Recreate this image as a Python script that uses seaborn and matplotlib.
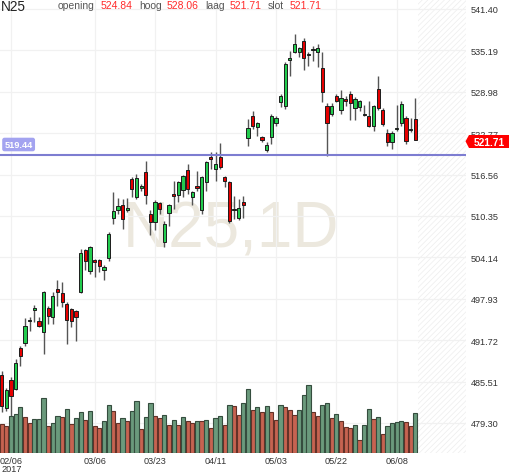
import matplotlib
matplotlib.use('Agg')
import matplotlib.pyplot as plt
import seaborn as sns
import numpy as np
import pandas as pd
from matplotlib.patches import Polygon

# ==========================================
# Data: daily candles N25
# ==========================================
opens = [486.5, 481.55, 485.75, 484.4, 490.55, 491.3, 494.6, 496.25, 494.6, 492.95,
         496.55, 495.2, 499.4, 498.8, 497.15, 496.4, 496.1, 498.95, 505.25, 502.1,
         503.75, 503.75, 502.25, 504.05, 510.05, 511.25, 512.0, 511.25, 515.9, 513.2,
         514.55, 516.95, 510.65, 509.45, 512.3, 506.45, 510.8, 513.65, 513.5, 514.25,
         517.25, 513.2, 514.85, 511.25, 515.45, 519.2, 517.4, 519.2, 516.2, 515.45,
         511.25, 510.05, 512.45, 522.05, 525.35, 523.7, 522.2, 520.25, 522.2, 524.3,
         527.45, 526.85, 533.75, 534.95, 534.95, 536.6, 534.5, 535.25, 534.95, 532.55,
         526.85, 525.65, 528.35, 526.25, 527.9, 528.65, 526.55, 526.7, 525.5, 525.35,
         523.85, 529.4, 526.25, 522.8, 521.45, 523.4, 524.3, 525.05, 523.25, 524.84]
highs = [487.1, 484.55, 486.2, 488.9, 490.85, 495.05, 495.2, 497.0, 495.2, 499.1,
         496.85, 498.95, 500.75, 500.45, 497.45, 496.55, 496.25, 505.4, 505.4, 505.85,
         503.9, 503.9, 503.0, 507.95, 513.95, 513.05, 512.9, 513.05, 516.2, 516.65,
         515.15, 518.6, 511.25, 512.75, 512.45, 509.6, 512.15, 515.6, 515.6, 516.5,
         518.15, 514.1, 517.1, 516.35, 518.6, 519.95, 519.95, 521.3, 516.35, 515.6,
         513.35, 512.9, 513.35, 524.9, 526.1, 524.45, 522.35, 521.45, 525.65, 525.35,
         528.65, 533.45, 535.1, 537.65, 535.7, 537.05, 534.95, 535.85, 536.15, 534.95,
         527.3, 527.3, 528.65, 529.25, 528.35, 529.1, 528.2, 527.75, 527.0, 527.6,
         527.0, 531.35, 526.55, 523.4, 523.1, 527.0, 527.6, 525.35, 525.05, 528.06]
lows = [480.95, 481.1, 480.2, 484.25, 487.85, 490.85, 493.1, 494.45, 493.7, 489.65,
        494.15, 494.15, 496.85, 496.7, 491.15, 493.7, 491.6, 498.8, 502.25, 501.65,
        501.2, 501.95, 500.75, 503.6, 509.15, 510.65, 508.4, 510.95, 513.2, 512.9,
        514.1, 512.15, 507.5, 508.25, 510.65, 505.7, 508.85, 511.4, 512.45, 513.2,
        513.65, 512.0, 514.1, 510.65, 514.1, 517.4, 515.6, 517.4, 514.7, 509.3,
        509.9, 509.75, 510.05, 520.85, 523.4, 522.35, 521.45, 519.95, 521.15, 523.85,
        526.7, 526.4, 531.35, 534.8, 534.2, 532.25, 532.85, 533.6, 532.7, 527.45,
        519.35, 525.35, 527.45, 525.65, 526.85, 524.75, 524.75, 526.1, 525.35, 523.7,
        523.1, 526.25, 523.85, 520.85, 520.4, 523.1, 523.85, 521.15, 522.95, 521.71]
closes = [481.85, 484.25, 483.35, 488.3, 489.35, 493.85, 494.65, 496.55, 493.85, 498.95,
          495.35, 498.35, 498.95, 497.45, 494.75, 494.6, 495.2, 504.8, 503.6, 505.7,
          503.45, 502.85, 502.7, 507.65, 511.1, 511.85, 509.9, 511.55, 514.4, 516.05,
          514.85, 513.5, 509.45, 512.45, 511.4, 509.15, 512.0, 513.35, 515.45, 516.35,
          514.4, 513.95, 514.6, 516.2, 518.45, 518.9, 518.15, 517.7, 515.6, 509.6,
          511.3, 511.55, 512.0, 523.55, 523.85, 524.3, 521.75, 521.0, 525.35, 525.05,
          528.35, 533.15, 534.05, 536.15, 535.55, 534.05, 534.5, 535.25, 535.55, 528.95,
          524.3, 526.85, 527.6, 528.05, 527.6, 527.3, 527.9, 527.6, 525.5, 523.85,
          526.85, 526.55, 524.15, 521.45, 522.8, 523.4, 527.15, 521.6, 523.25, 521.71]

# volume (relative units) and bar colour per day
volumes = [29.0, 27.3, 36.7, 39.0, 45.7, 35.7, 30.0, 34.0, 34.0, 55.0,
           27.3, 30.0, 37.3, 35.7, 44.0, 29.0, 34.7, 40.7, 33.0, 42.3,
           26.7, 24.7, 31.7, 48.3, 41.7, 29.7, 35.0, 32.3, 42.3, 51.7,
           24.0, 35.7, 50.0, 36.7, 35.0, 38.3, 28.3, 33.3, 28.3, 35.7,
           31.7, 30.0, 32.3, 32.3, 33.3, 25.0, 35.0, 37.3, 28.3, 47.7,
           46.7, 38.3, 50.0, 64.0, 43.3, 45.7, 40.7, 47.3, 40.7, 33.3,
           48.3, 45.7, 43.3, 38.3, 43.3, 58.0, 68.3, 40.7, 36.7, 48.3,
           50.0, 35.0, 39.0, 31.7, 25.7, 25.0, 28.3, 13.0, 28.3, 44.0,
           34.0, 35.7, 19.0, 27.3, 30.0, 30.7, 31.7, 30.7, 26.7, 40.0]
vol_dir = list("RRGGGRRGGG" "RGGRGRGGRG" "RRGGRRGRGG" "RGGRRGRGRG" "RRGRGRGGRG"
               "RRGGRGRGRR" "GRRRGGGRRG" "GRGRRRGRGG" "RGRGGGGRRG")

date_pos = [2, 20, 33, 46, 59, 72, 85]
date_labels = ['02/06', '03/06', '03/23', '04/11', '05/03', '05/22', '06/08']
price_ticks = [479.30, 485.51, 491.72, 497.93, 504.14, 510.35, 516.56, 522.77, 528.98, 535.19, 541.40]
level_line = 519.44
last = dict(opening=524.84, hoog=528.06, laag=521.71, slot=521.71)

df = pd.DataFrame({'open': opens, 'high': highs, 'low': lows, 'close': closes,
                   'volume': volumes, 'vdir': vol_dir})
df['x'] = np.arange(len(df))

# ==========================================
# Style
# ==========================================
sns.set_theme(style='white')
plt.rcParams['font.family'] = ['Liberation Sans', 'DejaVu Sans']
plt.rcParams['hatch.linewidth'] = 0.5

W, H = 512, 477
def fx(px):
    return px / W
def fy(py):
    return 1 - py / H

fig = plt.figure(figsize=(W / 100, H / 100), dpi=100)
ax = fig.add_axes([0, 23 / H, 466 / W, 454 / H])

# grid + watermark + future hatch zone
ax.set_xlim(-0.37, 99.9)
ax.set_ylim(474.8, 542.9)
ax.set_yticks(price_ticks)
ax.set_yticklabels([f'{t:.2f}' for t in price_ticks])
ax.set_xticks(date_pos)
ax.set_xticklabels(date_labels)
ax.grid(True, color='#f1f1f1', lw=0.9)
ax.set_axisbelow(True)
ax.text(0.496, 0.454, 'N25,1D', transform=ax.transAxes, ha='center', va='baseline',
        fontsize=46, color='#ece8de', zorder=0)
ax.axvspan(89.6, 99.9, facecolor='none', edgecolor='#ededed', hatch='//////', lw=0, zorder=0)

# candles
up = df['close'] >= df['open']
body_low = df[['open', 'close']].min(axis=1)
body_h = (df['close'] - df['open']).abs().clip(lower=0.12)
ax.vlines(df['x'], df['low'], df['high'], color='#555555', lw=1.0, zorder=2)
ax.bar(df['x'], body_h, bottom=body_low, width=0.7,
       color=np.where(up, '#22cc4e', '#e60000'), edgecolor='#1c1c1c', lw=0.7, zorder=3)

ax.axhline(level_line, color='#7d7dd1', lw=1.5, zorder=4)

# volume on a twin axis drawn above the price panel
axv = ax.twinx()
sns.barplot(data=df, x='x', y='volume', hue='vdir', palette={'G': '#62a27a', 'R': '#da563d'},
            native_scale=True, dodge=False, width=0.9, legend=False, ax=axv, lw=0.8)
for p in axv.patches:
    r, g, b, a = p.get_facecolor()
    p.set_edgecolor((r * 0.5, g * 0.5, b * 0.5, 1))
axv.set_ylim(0, 454)
axv.set_yticks([])
axv.set_xlabel('')
axv.set_ylabel('')
ax.set_xlim(-0.37, 99.9)

ax.yaxis.tick_right()
ax.tick_params(axis='y', length=0, pad=3.6, labelsize=6.6, labelcolor='#333333')
ax.tick_params(axis='x', length=0, pad=2.0, labelsize=6.6, labelcolor='#333333')
for a in (ax, axv):
    for s in a.spines.values():
        s.set_visible(False)

# ==========================================
# Header and labels
# ==========================================
fig.text(fx(1), fy(10.7), 'N25', fontsize=9.8, color='#222222', va='baseline')
head_x = [(58, 'opening', 101, 'opening'), (139, 'hoog', 167, 'hoog'),
          (205, 'laag', 230, 'laag'), (268, 'slot', 290, 'slot')]
for lx, lab, vx, key in head_x:
    fig.text(fx(lx), fy(9.3), lab, fontsize=7.5, color='#555555', va='baseline')
    fig.text(fx(vx), fy(9.3), f'{last[key]:.2f}', fontsize=7.5, color='#ff2a2a', va='baseline')
fig.text(fx(1), fy(472.5), '2017', fontsize=6.6, color='#333333', va='baseline')

fig.text(fx(4.5), fy(145.5), f'{level_line:.2f}', fontsize=6.6, color='white', weight='bold',
         va='center', ha='left',
         bbox=dict(boxstyle='round,pad=0.25', fc='#a3a3f0', ec='none'))

tag = Polygon([(fx(465.5), fy(142.3)), (fx(469), fy(136)), (fx(509), fy(136)),
               (fx(509), fy(149)), (fx(469), fy(149))],
              closed=True, transform=fig.transFigure, fc='#ff0000', ec='none', zorder=10)
fig.patches.append(tag)
fig.text(fx(489), fy(142.5), f"{last['slot']:.2f}", fontsize=7.4, color='white', weight='bold',
         ha='center', va='center', zorder=11)

fig.savefig('out.png', dpi=100)
